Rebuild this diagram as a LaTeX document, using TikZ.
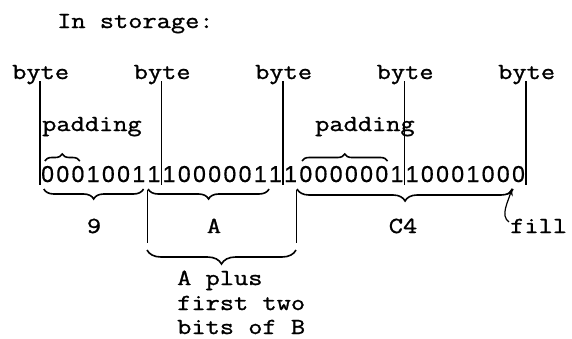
\documentclass[tikz,border=0pt]{standalone}
\usepackage{fontspec}
\newfontfamily\tw[FakeStretch=1.2,FakeBold=1.2]{Latin Modern Mono}
\newfontfamily\digitfont[FakeBold=0.6]{Liberation Sans}
\usetikzlibrary{decorations.pathreplacing,arrows.meta}
\begin{document}
\begin{tikzpicture}[x=1pt,y=-1pt,
  txt/.style={font=\tw\fontsize{23}{26}\selectfont, inner sep=0pt, anchor=base west},
  ctxt/.style={font=\tw\fontsize{23}{26}\selectfont, inner sep=0pt, anchor=base},
  bit/.style={font=\digitfont\fontsize{23}{25}\selectfont, inner sep=0pt, anchor=base,
     minimum width=15.19pt, text height=17pt, text depth=0pt},
  byteline/.style={line width=1.1pt},
  brc/.style={decorate, decoration={brace, amplitude=#1}, line width=1.6pt},
  brc/.default=10pt,
  tick/.style={line width=1pt}]
\useasboundingbox (0,0) rectangle (572,338);
\fill[white] (0,0) rectangle (572,338);

\node[txt] (title) at (57,28) {In storage:};

% byte labels and lines
\foreach \i in {0,...,4}{
  \pgfmathsetmacro{\lx}{40+121.5*\i}
  \node[txt] (b\i) at (\lx-28,79) {byte};
  \coordinate (t\i) at (\lx,81);
  \coordinate (u\i) at (\lx,185);
  \draw[byteline] (t\i) -- (u\i);
}

\node[txt] (pad1) at (42,131) {padding};
\node[txt] (pad2) at (315,131) {padding};

% bits
\foreach \b [count=\k from 0] in {0,0,0,1,0,0,1,1, 1,0,0,0,0,0,1,1, 1,0,0,0,0,0,0,1, 1,0,0,0,1,0,0,0}{
  \node[bit] (d\k) at ({40+15.19*(\k+0.5)},182) {\b};
}

\coordinate (yb) at (0,189);
\coordinate (yt) at (0,161);
\coordinate (ybig) at (0,250);

% padding braces above
\draw[brc=7pt] ([xshift=5pt]d0.west |- yt) -- ([xshift=-6pt]d2.east |- yt);
\draw[brc=7pt] ([xshift=4pt]d17.west |- yt) -- ([xshift=-2pt]d22.east |- yt);

% braces below
\draw[brc] ([xshift=-3pt]d6.east |- yb) -- ([xshift=4pt]d0.west |- yb);
\draw[brc] ([xshift=1pt]d14.east |- yb) -- ([xshift=2pt]d7.west |- yb);
\draw[brc=12pt] ([xshift=2pt]d30.east |- yb) -- ([xshift=-1pt]d17.west |- yb);

% vertical side lines
\coordinate (v1a) at (147,190);
\coordinate (v1b) at (147,243);
\coordinate (v2a) at (296,190);
\coordinate (v2b) at (296,243);
\draw[tick] (v1a) -- (v1b);
\draw[tick] (v2a) -- (v2b);

% big brace
\draw[brc=14pt] (v2b |- ybig) -- (v1b |- ybig);

% labels
\node[ctxt] (l9) at (94,233) {9};
\node[ctxt] (lA) at (214,233) {A};
\node[ctxt] (lC) at (403,233) {C4};
\node[txt] (ap1) at (177,285) {A plus};
\node[txt] (ap2) at (177,310) {first two};
\node[txt] (ap3) at (177,334) {bits of B};

% fill
\node[txt] (fill) at (510,233) {fill};
\coordinate (fillpt) at (512,188);
\draw[line width=1.2pt, -{Stealth[length=8pt,width=6pt]}] ([xshift=-1pt,yshift=4pt]fill.west) .. controls +(-9,-6) and +(-4,14) .. (fillpt);
\end{tikzpicture}
\end{document}
